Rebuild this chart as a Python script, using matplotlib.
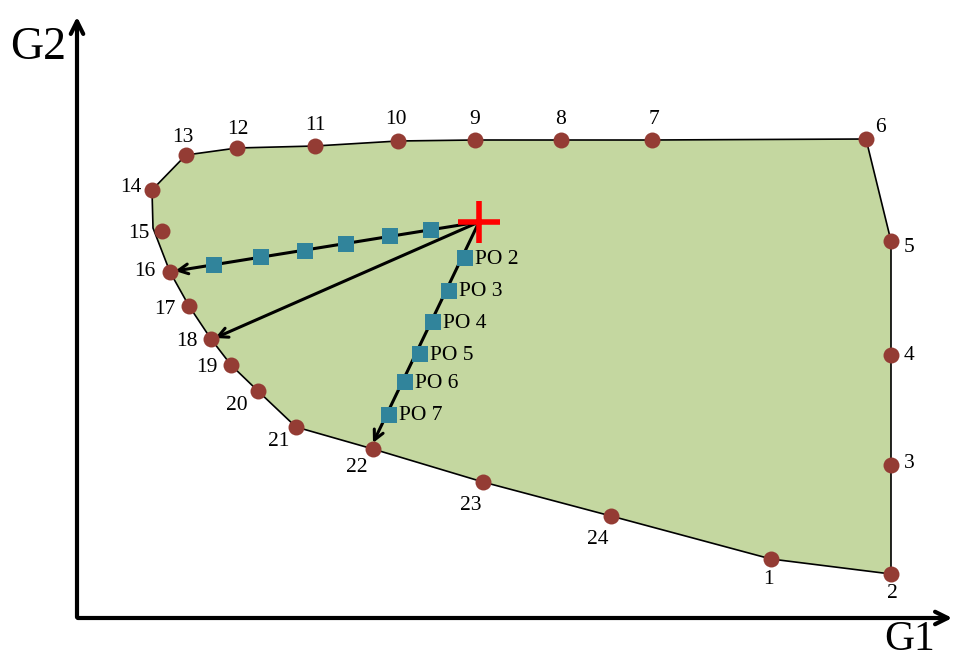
import matplotlib.pyplot as plt

# ---- Pareto front points (G1, G2 in drawing units, y grows downward)
labels = [str(i) for i in range(1, 25)]
g1 = [771, 891, 891, 891, 891, 866, 652, 561, 475, 398, 315, 237,
      186, 152, 162, 170, 189, 211, 231, 258, 296, 373, 483, 611]
g2 = [559, 574, 465, 355, 241, 139, 140, 140, 140, 141, 146, 148,
      155, 190, 231, 272, 306, 339, 365, 391, 427, 449, 482, 516]

# label offsets (dx, dy) for each point number
off_x = [-3, 1, 18, 18, 18, 14, 2, 0, 0, -2, 0, 1, -3, -21, -23, -25, -24, -24, -24, -21, -17, -16, -12, -13]
off_y = [21, 20, -1, 0, 6, -11, -20, -20, -20, -21, -20, -18, -18, -2, 2, -1, 3, 3, 3, 15, 14, 19, 24, 24]

# boundary of the feasible region
bx = [771, 891, 891, 891, 866, 652, 475, 398, 315, 237, 186, 152, 153, 170, 189, 211, 231, 258, 296, 373, 483, 611]
by = [559, 574, 465, 241, 139, 140, 140, 141, 146, 148, 155, 190, 228, 272, 306, 339, 365, 391, 427, 449, 482, 516]

# start point and search directions
start = (479, 222)
targets = [(175, 271), (215, 338), (373, 443)]

# intermediate points along the two searches
sq1_x = [431, 390, 346, 305, 261, 214]
sq1_y = [230, 236, 244, 251, 257, 265]
po_x = [465, 449, 433, 420, 405, 389]
po_y = [258, 291, 322, 354, 382, 415]
po_labels = ['PO 2', 'PO 3', 'PO 4', 'PO 5', 'PO 6', 'PO 7']

plt.rcParams['font.family'] = ['Liberation Serif', 'DejaVu Serif']

fig = plt.figure(figsize=(9.56, 6.54), dpi=100)
ax = fig.add_axes([0, 0, 1, 1])
ax.set_xlim(0, 956)
ax.set_ylim(654, 0)
ax.axis('off')

ax.fill(bx, by, facecolor='#C4D7A0', edgecolor='black', linewidth=1.2, zorder=1)

# axes arrows
ax.annotate('', xy=(77, 14), xytext=(77, 620),
            arrowprops=dict(arrowstyle='->,head_length=0.9,head_width=0.45', lw=3, color='black'))
ax.annotate('', xy=(955, 618), xytext=(75, 618),
            arrowprops=dict(arrowstyle='->,head_length=0.9,head_width=0.45', lw=3, color='black'))
ax.text(38, 48, 'G2', fontsize=33, ha='center', va='center')
ax.text(910, 640, 'G1', fontsize=30, ha='center', va='center')

# search arrows
for tx, ty in targets:
    ax.annotate('', xy=(tx, ty), xytext=start,
                arrowprops=dict(arrowstyle='->,head_length=0.7,head_width=0.35', lw=2.2,
                                color='black', shrinkA=0, shrinkB=0), zorder=2)

ax.plot(g1, g2, 'o', color='#943C34', markersize=11.5, markeredgewidth=0, zorder=3)
for x, y, lab, dx, dy in zip(g1, g2, labels, off_x, off_y):
    ax.text(x + dx, y + dy, lab, fontsize=15.5, ha='center', va='center')

ax.plot(sq1_x, sq1_y, 's', color='#31849B', markersize=11, markeredgewidth=0, zorder=3)
ax.plot(po_x, po_y, 's', color='#31849B', markersize=11, markeredgewidth=0, zorder=3)
for x, y, lab in zip(po_x, po_y, po_labels):
    ax.text(x + 10, y + 1, lab, fontsize=15.5, ha='left', va='center')

ax.plot(*start, marker='+', color='red', markersize=30, markeredgewidth=4, zorder=4)

fig.savefig('out.png', dpi=100)
